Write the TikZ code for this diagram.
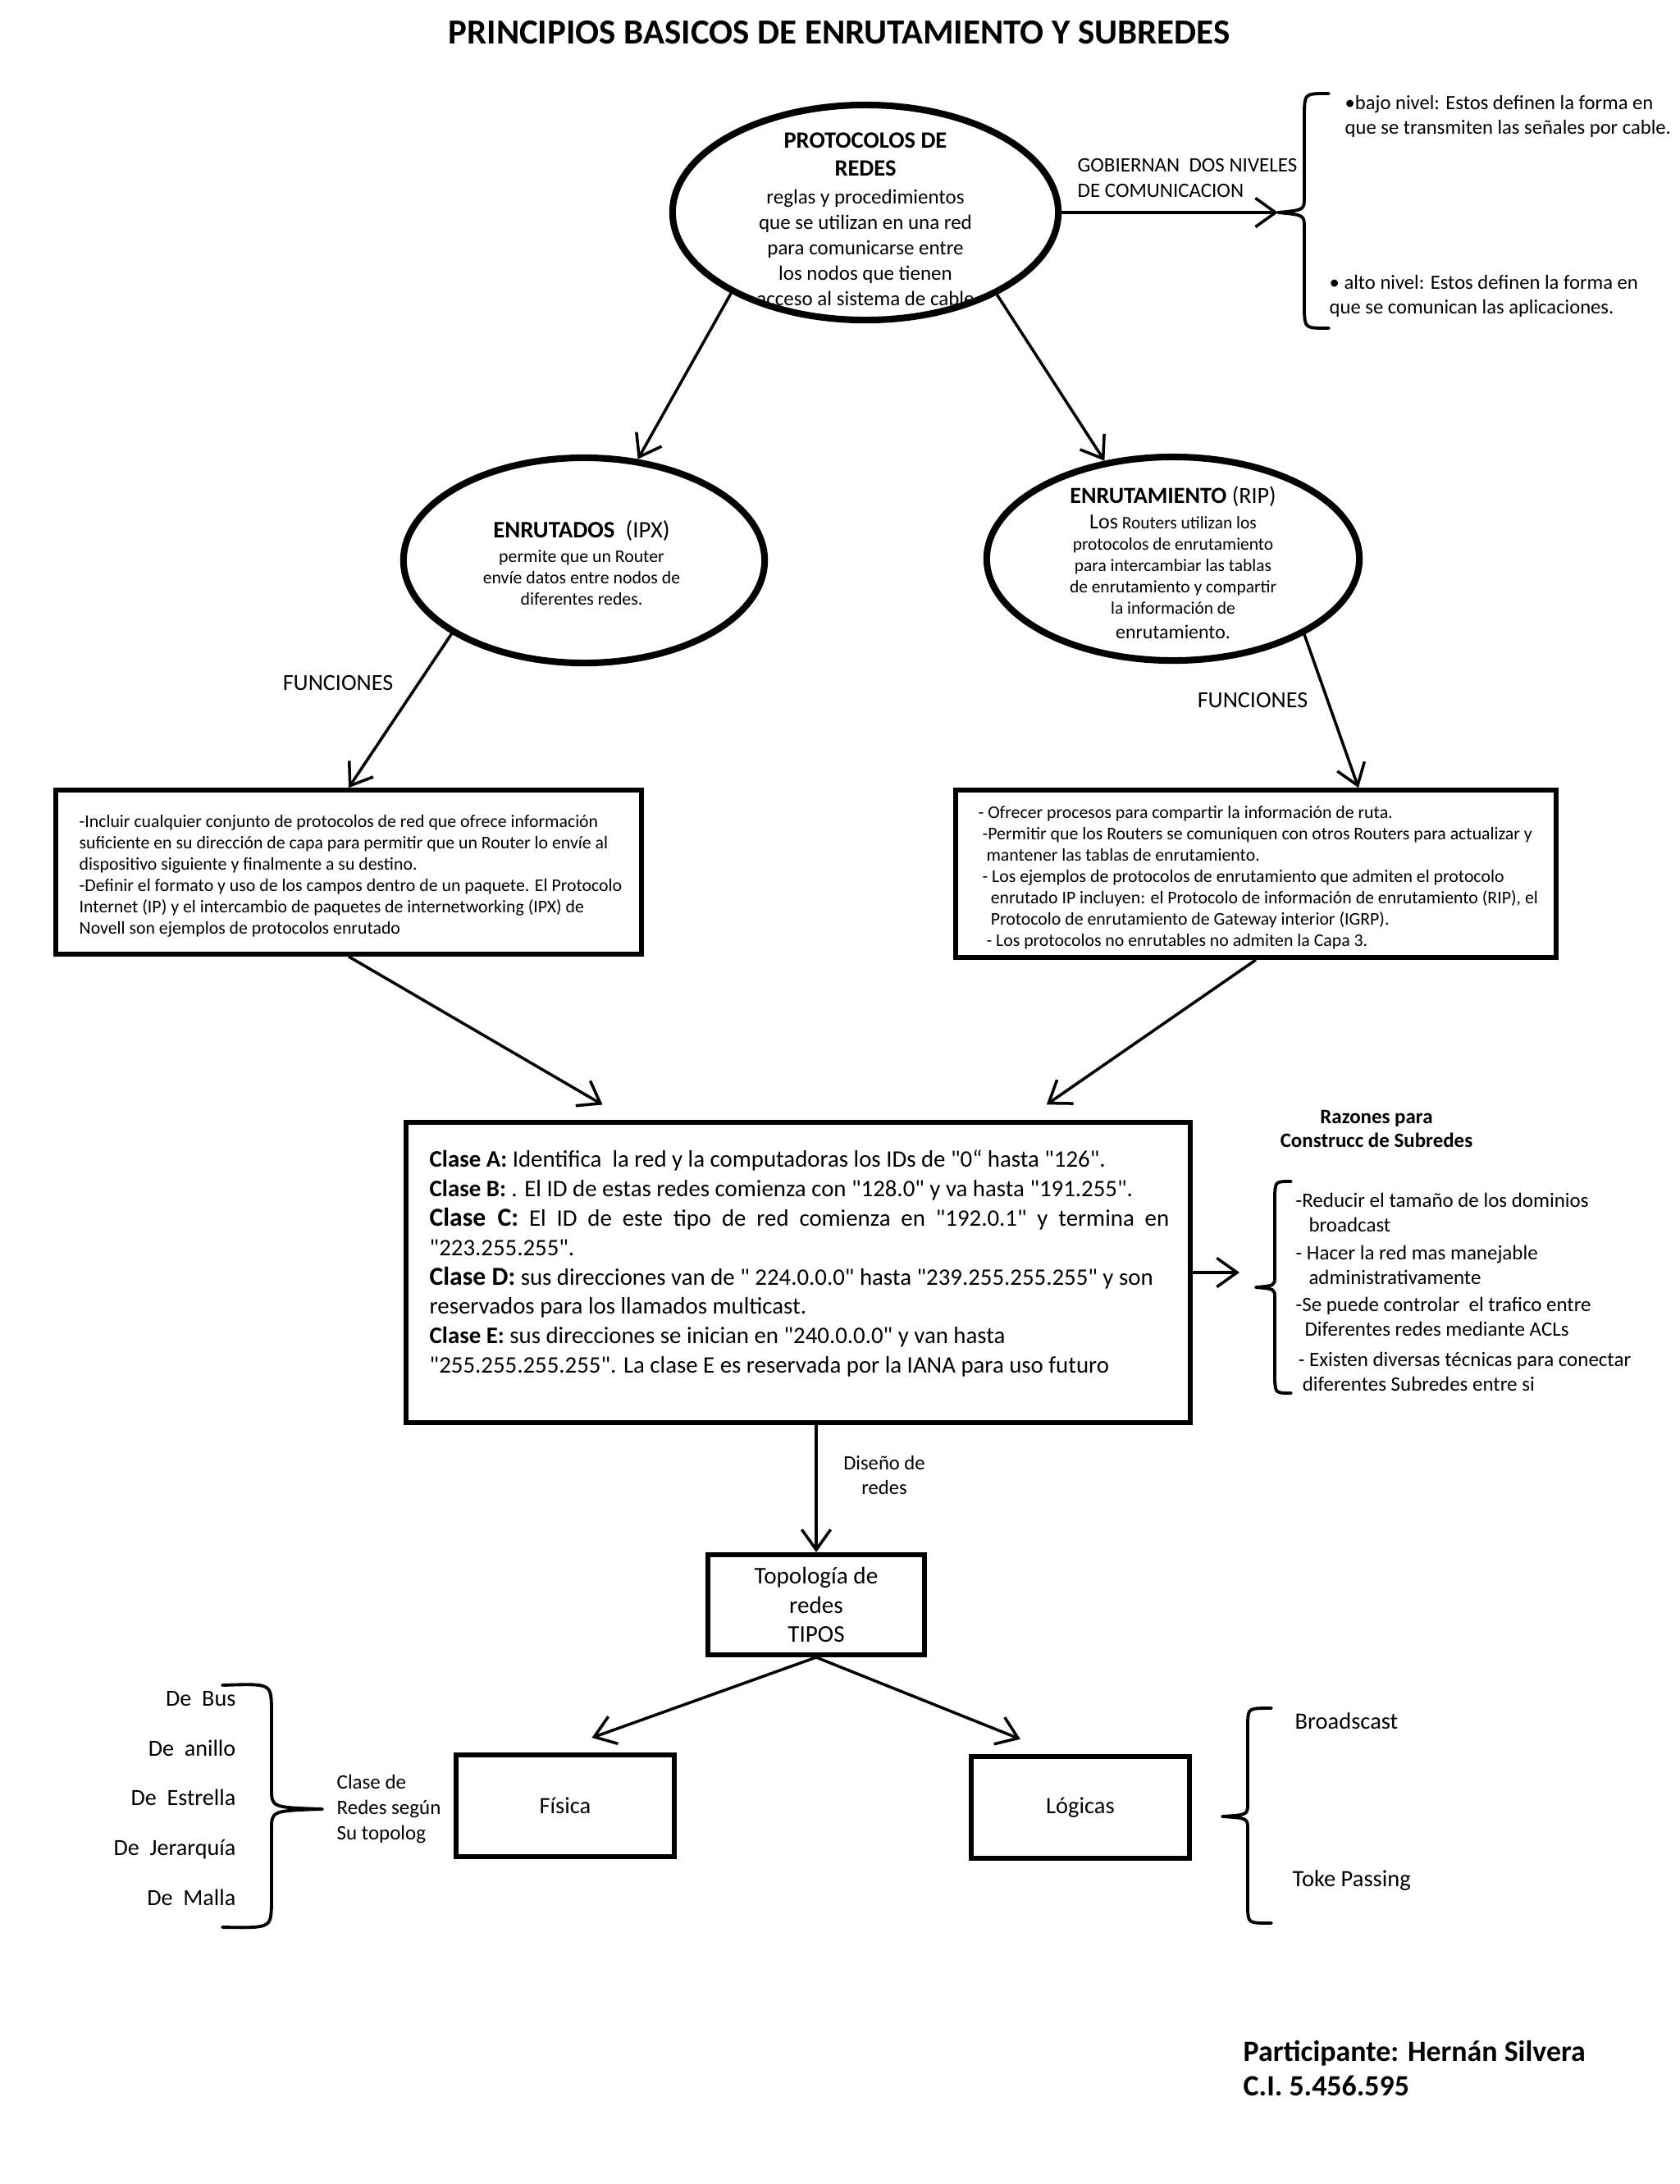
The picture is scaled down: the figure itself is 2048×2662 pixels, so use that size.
\documentclass[tikz,border=0pt]{standalone}
\usepackage{fontspec}
\setmainfont{Carlito}[Ligatures=TeXOff]
\usepackage{tikz}
\usetikzlibrary{arrows.meta,shapes.geometric,positioning}

\newcommand{\tam}[2]{\fontsize{#1pt}{#2pt}\selectfont}

\tikzset{
  elipse/.style={draw,ellipse,line width=2.3pt,inner sep=0pt},
  caja/.style={draw,line width=1.6pt,inner sep=0pt},
  flecha/.style={line width=1pt,-{Straight Barb[length=7pt,width=10pt]}},
  llave/.style={line width=1.1pt,line cap=round,line join=round},
  texto/.style={inner sep=0pt,align=left},
}

\begin{document}
\begin{tikzpicture}[x=0.01cm,y=-0.01cm]
\fill[white] (0,0) rectangle (2048,2662);

% titulo
\node[font=\tam{12.2}{14}\bfseries] (titulo) at (1023,40) {PRINCIPIOS BASICOS DE ENRUTAMIENTO Y SUBREDES};

% protocolos de redes
\node[elipse,minimum width=4.7cm,minimum height=2.62cm] (protocolos) at (1055,259) {};
\node[align=center,font=\tam{7.1}{8.8}] (protocolosTxt) at (1055,267)
  {{\tam{8.1}{9.6}\bfseries PROTOCOLOS DE}\\[0.9pt]{\tam{8.1}{9.6}\bfseries REDES}\\[0.9pt]reglas y procedimientos\\que se utilizan en una red\\para comunicarse entre\\los nodos que tienen\\acceso al sistema de cable};

\node[texto,font=\tam{7.1}{8.6},anchor=west] (gobiernan) at (1313,217) {GOBIERNAN\ \ DOS NIVELES\\DE COMUNICACION};
\node[texto,font=\tam{7}{8.4},anchor=west] (bajoNivel) at (1639,142) {•bajo nivel: Estos definen la forma en\\que se transmiten las señales por cable.};
\node[texto,font=\tam{7}{8.4},anchor=west] (altoNivel) at (1620,361) {• alto nivel: Estos definen la forma en\\que se comunican las aplicaciones.};

% llave de los niveles
\coordinate (puntaNiveles) at (1558,259);
\draw[llave] (1620,114) .. controls (1591,114) .. (1590,134) -- (1590,240)
  .. controls (1590,256) .. (puntaNiveles) .. controls (1590,262) .. (1590,278)
  -- (1590,380) .. controls (1591,400) .. (1620,400);
\draw[flecha] (protocolos.east) -- (puntaNiveles);

% enrutados y enrutamiento
\node[elipse,minimum width=4.4cm,minimum height=2.5cm] (enrutados) at (712,683) {};
\node[align=center,font=\tam{6.2}{7.4}] (enrutadosTxt) at (709,686)
  {{\tam{8.2}{9}\textbf{ENRUTADOS}\ \ (IPX)}\\[1.2pt]permite que un Router\\envíe datos entre nodos de\\diferentes redes.};

\node[elipse,minimum width=4.54cm,minimum height=2.48cm] (enrutamiento) at (1430,681) {};
\node[align=center,font=\tam{6.1}{7.4}] (enrutamientoTxt) at (1430,686)
  {{\tam{8}{9}\textbf{ENRUTAMIENTO}~(RIP)}\\[1.4pt]{\tam{7.4}{8}Los} Routers utilizan los\\protocolos de enrutamiento\\para intercambiar las tablas\\de enrutamiento y compartir\\la información de\\[1.2pt]{\tam{6.8}{8}enrutamiento.}};

\draw[flecha] (protocolos.211) -- (enrutados.62);
\draw[flecha] (protocolos.328) -- (enrutamiento.125);

\node[font=\tam{8}{9}] (funcEnrutados) at (412,832) {FUNCIONES};
\node[font=\tam{8}{9}] (funcEnrutamiento) at (1527,853) {FUNCIONES};

% cajas de funciones
\node[caja,minimum width=7.13cm,minimum height=2cm] (cajaEnrutados) at (425,1063) {};
\node[texto,font=\tam{6.2}{7.4},anchor=west] (cajaEnrutadosTxt) at (96,1068)
  {-Incluir cualquier conjunto de protocolos de red que ofrece información\\suficiente en su dirección de capa para permitir que un Router lo envíe al\\dispositivo siguiente y finalmente a su destino.\\-Definir el formato y uso de los campos dentro de un paquete. El Protocolo\\Internet (IP) y el intercambio de paquetes de internetworking (IPX) de\\Novell son ejemplos de protocolos enrutado};

\node[caja,minimum width=7.32cm,minimum height=2.04cm] (cajaEnrutamiento) at (1531,1065) {};
\node[texto,font=\tam{6.2}{7.4},anchor=west] (cajaEnrutamientoTxt) at (1192,1070)
  {- Ofrecer procesos para compartir la información de ruta.\\\hspace*{1.4pt}-Permitir que los Routers se comuniquen con otros Routers para actualizar y\\\hspace*{2.8pt}mantener las tablas de enrutamiento.\\\hspace*{1.4pt}- Los ejemplos de protocolos de enrutamiento que admiten el protocolo\\\hspace*{4.3pt}enrutado IP incluyen: el Protocolo de información de enrutamiento (RIP), el\\\hspace*{4.3pt}Protocolo de enrutamiento de Gateway interior (IGRP).\\\hspace*{2.8pt}- Los protocolos no enrutables no admiten la Capa 3.};

\draw[flecha] (enrutados.209) -- (cajaEnrutados.north);
\draw[flecha] (enrutamiento.330) -- (cajaEnrutamiento.40);

% clases de redes
\node[caja,minimum width=9.56cm,minimum height=3.66cm] (clases) at (973,1551) {};
\node[inner sep=0pt,text width=9.01cm,align=justify,font=\tam{8.2}{10.2},anchor=west] (clasesTxt) at (523,1540)
  {\textbf{Clase A:} Identifica\ \ la red y la computadoras los IDs de "0“ hasta "126".\\
   \textbf{Clase B:} . El ID de estas redes comienza con "128.0" y va hasta "191.255".\\
   {\tam{9}{10.2}\textbf{Clase\hspace{0.45em}C:}} El ID de este tipo de red comienza en "192.0.1" y termina en\linebreak "223.255.255".\\
   {\tam{9}{10.2}\textbf{Clase D:}} sus direcciones van de " 224.0.0.0" hasta "239.255.255.255" y son\\reservados para los llamados multicast.\\
   \textbf{Clase E:} sus direcciones se inician en "240.0.0.0" y van hasta\\"255.255.255.255". La clase E es reservada por la IANA para uso futuro};

\draw[flecha,shorten >=0.37cm] (cajaEnrutados.south) -- (clases.138.5);
\draw[flecha,shorten >=0.33cm] (cajaEnrutamiento.south) -- (clases.34.3);

% razones para subredes
\node[align=center,font=\tam{7.1}{8}\bfseries] (razones) at (1678,1376) {Razones para\\Construcc de Subredes};
\node[texto,font=\tam{7.1}{8.5},anchor=west] (razonesTxt) at (1579,1575)
  {-Reducir el tamaño de los dominios\\\hspace*{4.5pt}broadcast\\[1pt]- Hacer la red mas manejable\\\hspace*{4.5pt}administrativamente\\[1pt]-Se puede controlar\ \ el trafico entre\\\hspace*{3.1pt}Diferentes redes mediante ACLs\\[2pt]\hspace*{0.9pt}- Existen diversas técnicas para conectar\\\hspace*{2.3pt}diferentes Subredes entre si};

\coordinate (finRazones) at (1511,1551);
\draw[flecha] (clases.east) -- (finRazones);
\draw[llave] (1574,1440) .. controls (1555,1440) .. (1554,1456) -- (1554,1556)
  .. controls (1554,1567) .. (1531,1569) .. controls (1554,1571) .. (1554,1582)
  -- (1554,1682) .. controls (1555,1698) .. (1574,1698);

% topologia
\node[caja,line width=1.7pt,minimum width=2.63cm,minimum height=1.22cm,align=center,font=\tam{8.3}{10.2}] (topologia) at (995,1956) {Topología de\\redes\\TIPOS};
\draw[flecha] (clases.south -| topologia.north) -- (topologia.north);
\node[align=center,font=\tam{7}{8.8}] (diseno) at (1078,1798) {Diseño de\\redes};

\node[caja,line width=1.7pt,minimum width=2.66cm,minimum height=1.24cm,font=\tam{8.1}{9}] (fisica) at (689,2201) {Física};
\node[caja,line width=1.7pt,minimum width=2.66cm,minimum height=1.24cm,font=\tam{8.1}{9}] (logicas) at (1317,2203) {Lógicas};
\draw[flecha,shorten >=0.53cm] (topologia.south) -- (fisica.105.3);
\draw[flecha,shorten >=0.49cm] (topologia.south) -- (logicas.113.5);

% tipos fisicos
\node[align=right,inner sep=0pt,font=\tam{8}{17.3},anchor=east] (tiposFisica) at (288,2192) {De\ \ Bus\\De\ \ anillo\\De\ \ Estrella\\De\ \ Jerarquía\\De\ \ Malla};
\draw[llave] (271,2054) .. controls (330,2052) .. (331,2080) -- (331,2180)
  .. controls (331,2203) .. (393,2205) .. controls (331,2207) .. (331,2230)
  -- (331,2322) .. controls (330,2350) .. (271,2349);
\node[texto,font=\tam{7.1}{8.7},anchor=west] (claseRedes) at (410,2205) {Clase de\\Redes según\\Su topolog};

% tipos logicos
\draw[llave] (1550,2082) .. controls (1522,2082) .. (1521,2098) -- (1521,2198)
  .. controls (1521,2212) .. (1490,2214) .. controls (1521,2216) .. (1521,2230)
  -- (1521,2328) .. controls (1522,2344) .. (1550,2344);
\node[texto,font=\tam{8.1}{9},anchor=west] (broadcast) at (1578,2098) {Broadscast};
\node[texto,font=\tam{8.1}{9},anchor=west] (tokePassing) at (1575,2292) {Toke Passing};

% participante
\node[texto,font=\tam{10.2}{12.2}\bfseries,anchor=west] (participante) at (1515,2521) {Participante: Hernán Silvera\\C.I. 5.456.595};
\end{tikzpicture}
\end{document}
